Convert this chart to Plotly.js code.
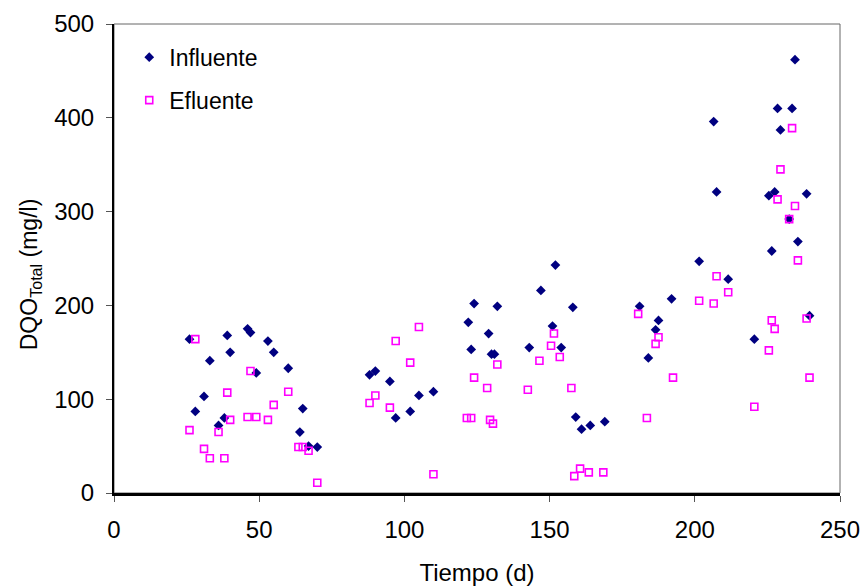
<!DOCTYPE html>
<html>
<head>
<meta charset="utf-8">
<script src="https://cdn.plot.ly/plotly-3.0.1.min.js"></script>
<style>html,body{margin:0;padding:0;background:#fff;}#chart{width:862px;height:588px;}</style>
</head>
<body>
<div id="chart"></div>
<script>
const influenteX = [26,28,31,33,36,38,39,40,46,47,49,53,55,60,64,65,67,70,
  88,90,95,97,102,105,110,122,123,124,129,130,131,132,143,147,151,152,154,158,159,161,164,169,
  181,184,186.5,187.5,192,201.5,206.5,207.5,211.5,220.5,225.5,226.5,227.5,228.5,229.5,232.5,233.5,234.5,235.5,238.5,239.5];
const influenteY = [164,87,103,141,72,80,168,150,175,171,128,162,150,133,65,90,50,49,
  126,130,119,80,87,104,108,182,153,202,170,148,148,199,155,216,178,243,155,198,81,68,72,76,
  199,144,174,184,207,247,396,321,228,164,317,258,321,410,387,292,410,462,268,319,189];
const efluenteX = [26,28,31,33,36,38,39,40,46,47,49,53,55,60,63.5,65,67,70,
  88,90,95,97,102,105,110,121.5,123,124,128.5,129.5,130.5,132,142.5,146.5,150.5,151.5,153.5,157.5,158.5,160.5,163.5,168.5,
  180.5,183.5,186.5,187.5,192.5,201.5,206.5,207.5,211.5,220.5,225.5,226.5,227.5,228.5,229.5,232.5,233.5,234.5,235.5,238.5,239.5];
const efluenteY = [67,164,47,37,65,37,107,78,81,130,81,78,94,108,49,49,45,11,
  96,104,91,162,139,177,20,80,80,123,112,78,74,137,110,141,157,170,145,112,18,26,22,22,
  191,80,159,166,123,205,202,231,214,92,152,184,175,313,345,292,389,306,248,186,123];
const xTicks = [0,50,100,150,200,250];
const yTicks = [0,100,200,300,400,500];

const FONT = 'Arial, "Liberation Sans", sans-serif';

const traces = [
  {x: influenteX, y: influenteY, name: 'Influente', type: 'scatter', mode: 'markers',
   legendgroup: 'a',
   marker: {symbol: 'diamond', size: 7.5, color: '#000080', line: {width: 0}}},
  {x: efluenteX, y: efluenteY, name: 'Efluente', type: 'scatter', mode: 'markers',
   legendgroup: 'b',
   marker: {symbol: 'square-open', size: 7, color: '#FF00FF', line: {width: 1.6, color: '#FF00FF'}}}
];

const layout = {
  width: 862, height: 588,
  margin: {l: 113.5, r: 22, t: 24, b: 95},
  paper_bgcolor: '#fff', plot_bgcolor: '#fff',
  font: {family: FONT, size: 24, color: '#000'},
  showlegend: true,
  legend: {x: 0.021, y: 0.975, xanchor: 'left', yanchor: 'top', bgcolor: 'rgba(0,0,0,0)',
           traceorder: 'grouped', tracegroupgap: 10, font: {family: FONT, size: 23, color: '#000'},
           itemwidth: 30},
  xaxis: {range: [0, 250], tickvals: xTicks, ticktext: xTicks.map(String), showgrid: false, zeroline: false,
          showline: true, linecolor: '#000', linewidth: 2.5, ticks: 'outside', ticklen: 6, tickwidth: 1, tickcolor: '#555',
          ticklabelstandoff: 8,
          tickfont: {family: FONT, size: 24}, title: {text: 'Tiempo (d)', font: {family: FONT, size: 24}, standoff: 22}},
  yaxis: {range: [0, 500], tickvals: yTicks, ticktext: yTicks.map(String), showgrid: false, zeroline: false,
          showline: true, linecolor: '#000', linewidth: 2, ticks: 'outside', ticklen: 6, tickwidth: 1, tickcolor: '#555',
          ticklabelstandoff: 7,
          tickfont: {family: FONT, size: 24},
          title: {text: 'DQO<sub>Total</sub> (mg/l)&nbsp;&nbsp;&nbsp;&nbsp;&nbsp;', font: {family: FONT, size: 23}, standoff: 10}},
  shapes: [
    {type: 'rect', xref: 'paper', yref: 'paper', x0: 0, x1: 1, y0: 0, y1: 1, line: {color: '#666', width: 1}, layer: 'below'}
  ]
};

Plotly.newPlot('chart', traces, layout, {displayModeBar: false, staticPlot: true});
</script>
</body>
</html>
